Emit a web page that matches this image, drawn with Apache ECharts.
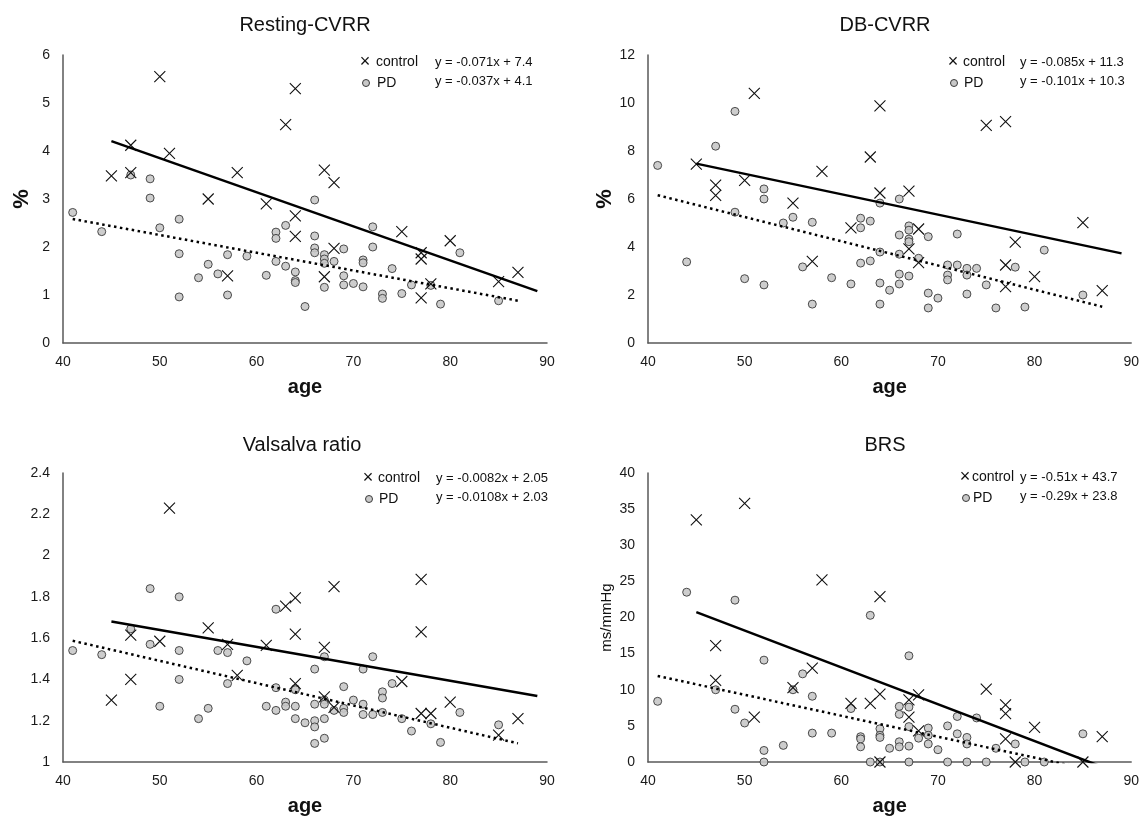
<!DOCTYPE html>
<html>
<head>
<meta charset="utf-8">
<script src="https://cdn.jsdelivr.net/npm/echarts@6/dist/echarts.min.js"></script>
<style>
html, body { margin: 0; padding: 0; background: #fff; }
#chart { width: 1142px; height: 817px; }
</style>
</head>
<body>
<div id="chart"></div>
<script>
// Resting-CVRR (%), [age, value]
var restCtrl = [[45,3.48],[47,4.12],[47,3.55],[50,5.55],[51,3.95],[55,3.0],[57,1.4],[58,3.55],[61,2.9],[63,4.55],[64,5.3],[64,2.65],[64,2.22],[67,3.6],[67,1.38],[68,3.34],[68,1.97],[75,2.32],[77,1.88],[77,1.75],[77,0.94],[78,1.23],[80,2.13],[85,1.28],[87,1.47]]
var restPd = [[41,2.72],[44,2.32],[47,3.5],[49,3.42],[49,3.02],[50,2.4],[52,2.58],[52,1.86],[52,0.96],[54,1.36],[55,1.64],[56,1.44],[57,1.84],[57,1.0],[59,1.81],[61,1.41],[62,2.31],[62,2.18],[62,1.7],[63,2.45],[63,1.6],[64,1.48],[64,1.3],[64,1.26],[65,0.76],[66,2.98],[66,2.23],[66,1.98],[66,1.88],[67,1.84],[67,1.75],[67,1.66],[67,1.16],[68,1.7],[69,1.96],[69,1.4],[69,1.21],[70,1.24],[71,1.73],[71,1.67],[71,1.17],[72,2.42],[72,2.0],[73,1.02],[73,0.93],[74,1.55],[75,1.03],[76,1.21],[78,1.2],[79,0.81],[81,1.88],[85,0.88]]

// DB-CVRR (%)
var dbCtrl = [[45,7.45],[47,6.58],[47,6.15],[50,6.78],[51,10.4],[55,5.83],[57,3.4],[58,7.15],[61,4.8],[63,7.75],[64,9.88],[64,6.25],[67,6.33],[67,3.92],[68,4.75],[68,3.35],[75,9.07],[77,9.22],[77,3.25],[77,2.35],[78,4.2],[80,2.77],[85,5.02],[87,2.18]]
var dbPd = [[41,7.4],[44,3.38],[47,8.2],[49,9.65],[49,5.45],[50,2.68],[52,6.42],[52,6.0],[52,2.42],[54,5.0],[55,5.24],[56,3.17],[57,5.03],[57,1.62],[59,2.72],[61,2.46],[62,5.2],[62,4.8],[62,3.33],[63,5.08],[63,3.42],[64,5.83],[64,3.79],[64,2.5],[64,1.62],[65,2.2],[66,6.0],[66,4.5],[66,3.7],[66,2.87],[66,2.46],[67,4.88],[67,4.7],[67,4.33],[67,4.22],[67,2.79],[68,3.53],[69,4.43],[69,2.08],[69,1.46],[70,1.87],[71,3.25],[71,2.83],[71,2.63],[72,4.54],[72,3.25],[73,3.11],[73,2.83],[73,2.04],[74,3.11],[75,2.42],[76,1.46],[78,3.16],[79,1.5],[81,3.87],[85,2.0]]

// Valsalva ratio
var valCtrl = [[45,1.3],[47,1.615],[47,1.4],[50,1.585],[51,2.23],[55,1.65],[57,1.57],[58,1.42],[61,1.565],[63,1.755],[64,1.795],[64,1.62],[64,1.38],[67,1.555],[67,1.315],[68,1.85],[68,1.265],[75,1.39],[77,1.885],[77,1.63],[77,1.235],[78,1.235],[80,1.29],[85,1.13],[87,1.21]]
var valPd = [[41,1.54],[44,1.52],[47,1.645],[49,1.84],[49,1.57],[50,1.27],[52,1.8],[52,1.54],[52,1.4],[54,1.21],[55,1.26],[56,1.54],[57,1.53],[57,1.38],[59,1.49],[61,1.27],[62,1.74],[62,1.36],[62,1.25],[63,1.29],[63,1.27],[64,1.355],[64,1.35],[64,1.27],[64,1.21],[65,1.19],[66,1.45],[66,1.28],[66,1.2],[66,1.17],[66,1.09],[67,1.51],[67,1.3],[67,1.28],[67,1.21],[67,1.115],[68,1.25],[69,1.365],[69,1.26],[69,1.24],[70,1.3],[71,1.45],[71,1.28],[71,1.23],[72,1.51],[72,1.23],[73,1.34],[73,1.31],[73,1.24],[74,1.38],[75,1.21],[76,1.15],[78,1.185],[79,1.095],[81,1.24],[85,1.18]]

// BRS (ms/mmHg)
var brsCtrl = [[45,33.5],[47,16.1],[47,11.3],[50,35.8],[51,6.2],[55,10.3],[57,13.0],[58,25.2],[61,8.1],[63,8.1],[64,22.9],[64,9.4],[64,0],[67,8.6],[67,6.2],[68,9.3],[68,4.3],[75,10.1],[77,7.9],[77,6.7],[77,3.2],[78,0],[80,4.8],[85,0],[87,3.5]]
var brsPd = [[41,8.4],[44,23.5],[47,10.0],[49,22.4],[49,7.3],[50,5.4],[52,14.1],[52,1.6],[52,0],[54,2.3],[55,10.0],[56,12.2],[57,9.1],[57,4.0],[59,4.0],[61,7.4],[62,3.5],[62,3.2],[62,2.1],[63,20.3],[63,0],[64,4.6],[64,3.7],[64,3.4],[64,0],[65,1.9],[66,7.7],[66,6.6],[66,2.8],[66,2.1],[67,14.7],[67,7.6],[67,4.9],[67,2.2],[67,0],[68,3.3],[69,4.7],[69,3.7],[69,2.5],[70,1.7],[71,5.0],[71,0],[72,6.3],[72,3.9],[73,3.4],[73,2.5],[73,0],[74,6.1],[75,0],[76,1.9],[78,2.5],[79,0],[81,0],[85,3.9]]

// trend lines: [slope, intercept] for control / PD
var restFit = [[-0.071, 7.4], [-0.037, 4.1]]
var dbFit = [[-0.085, 11.3], [-0.101, 10.3]]
var valFit = [[-0.0082, 2.05], [-0.0108, 2.03]]
var brsFit = [[-0.51, 43.7], [-0.29, 23.8]]
var ctrlRange = [45, 89]
var pdRange = [41, 87]

var titles = ['Resting-CVRR', 'DB-CVRR', 'Valsalva ratio', 'BRS']
var yNames = ['%', '%', '', 'ms/mmHg']
var yMin = [0, 0, 1, 0]
var yMax = [6, 12, 2.4, 40]
var yStep = [1, 2, 0.2, 5]

var font = 'Liberation Sans, Arial, sans-serif'
var crossPath = 'path://M0,0L10,10M10,0L0,10'

var panels = [
  { ctrl: restCtrl, pd: restPd, fit: restFit },
  { ctrl: dbCtrl, pd: dbPd, fit: dbFit },
  { ctrl: valCtrl, pd: valPd, fit: valFit },
  { ctrl: brsCtrl, pd: brsPd, fit: brsFit }
]

// layout
var grids = [
  { left: 63, top: 55, width: 484, height: 288 },
  { left: 648, top: 55, width: 484, height: 288 },
  { left: 63, top: 473, width: 484, height: 289 },
  { left: 648, top: 473, width: 484, height: 289 }
]
var titlePos = [[300, 10], [880, 10], [297, 430], [880, 430]]
// [x of marker, y of first row, x of equations, text offset after marker]
var legendPos = [[365, 62, 435, 11], [953, 62, 1020, 10], [368, 478, 436, 10], [965, 477, 1020, 7]]

function fitLine(f, r) {
  return [[r[0], f[0] * r[0] + f[1]], [r[1], f[0] * r[1] + f[1]]]
}
function eqText(f) {
  return 'y = ' + f[0] + 'x + ' + f[1]
}

var myChart = echarts.init(document.getElementById('chart'))

var xAxis = [], yAxis = [], series = [], title = [], graphic = []
panels.forEach(function (p, i) {
  title.push({
    text: titles[i],
    left: titlePos[i][0],
    top: titlePos[i][1],
    textAlign: 'center',
    textStyle: { fontSize: 20, fontWeight: 'normal', color: '#111', fontFamily: font }
  })
  xAxis.push({
    gridIndex: i,
    type: 'value',
    min: 40,
    max: 90,
    interval: 10,
    name: 'age',
    nameLocation: 'middle',
    nameGap: 34,
    nameTextStyle: { fontSize: 20, fontWeight: 'bold', color: '#111', fontFamily: font },
    axisLine: { show: true, onZero: false, lineStyle: { color: '#595959', width: 1.5 } },
    axisTick: { show: false },
    splitLine: { show: false },
    axisLabel: { fontSize: 14, color: '#1a1a1a', margin: 12, fontFamily: font }
  })
  yAxis.push({
    gridIndex: i,
    type: 'value',
    min: yMin[i],
    max: yMax[i],
    interval: yStep[i],
    name: yNames[i],
    nameLocation: 'middle',
    nameGap: i === 3 ? 34 : 30,
    nameTextStyle: i === 3
      ? { fontSize: 15, color: '#111', fontFamily: font }
      : { fontSize: 22, fontWeight: 'bold', color: '#111', fontFamily: font },
    axisLine: { show: true, onZero: false, lineStyle: { color: '#595959', width: 1.5 } },
    axisTick: { show: false },
    splitLine: { show: false },
    axisLabel: { fontSize: 14, color: '#1a1a1a', margin: 13, fontFamily: font }
  })
  series.push({
    name: 'PD',
    type: 'scatter',
    xAxisIndex: i,
    yAxisIndex: i,
    data: p.pd,
    symbol: 'circle',
    symbolSize: 8,
    itemStyle: { color: '#c8c8c8', borderColor: '#3a3a3a', borderWidth: 1, opacity: 0.9 },
    z: 2
  })
  series.push({
    name: 'control',
    type: 'scatter',
    xAxisIndex: i,
    yAxisIndex: i,
    data: p.ctrl,
    symbol: crossPath,
    symbolSize: 11,
    itemStyle: { color: 'rgba(0,0,0,0)', borderColor: '#111', borderWidth: 1.1, opacity: 1 },
    z: 3
  })
  series.push({
    type: 'line',
    xAxisIndex: i,
    yAxisIndex: i,
    data: fitLine(p.fit[0], ctrlRange),
    showSymbol: false,
    silent: true,
    clip: true,
    lineStyle: { color: '#000', width: 2.5 },
    z: 4
  })
  series.push({
    type: 'line',
    xAxisIndex: i,
    yAxisIndex: i,
    data: fitLine(p.fit[1], pdRange),
    showSymbol: false,
    silent: true,
    clip: true,
    lineStyle: { color: '#000', width: 2.5, type: [2.5, 3.5] },
    z: 4
  })

  // legend + equations
  var lp = legendPos[i]
  graphic.push(
    { type: 'text', x: lp[0], y: lp[1], style: { text: '×', fill: '#111', font: '18px ' + font, align: 'center', verticalAlign: 'middle' } },
    { type: 'text', x: lp[0] + lp[3], y: lp[1], style: { text: 'control', fill: '#111', font: '14px ' + font, align: 'left', verticalAlign: 'middle' } },
    { type: 'circle', shape: { cx: lp[0] + 1, cy: lp[1] + 21, r: 3.5 }, style: { fill: '#c8c8c8', stroke: '#3a3a3a', lineWidth: 1 } },
    { type: 'text', x: lp[0] + lp[3] + 1, y: lp[1] + 21, style: { text: 'PD', fill: '#111', font: '14px ' + font, align: 'left', verticalAlign: 'middle' } },
    { type: 'text', x: lp[2], y: lp[1], style: { text: eqText(p.fit[0]), fill: '#111', font: '13px ' + font, align: 'left', verticalAlign: 'middle' } },
    { type: 'text', x: lp[2], y: lp[1] + 19, style: { text: eqText(p.fit[1]), fill: '#111', font: '13px ' + font, align: 'left', verticalAlign: 'middle' } }
  )
})

var option = {
  backgroundColor: '#fff',
  animation: false,
  title: title,
  grid: grids,
  xAxis: xAxis,
  yAxis: yAxis,
  series: series,
  graphic: graphic
}
myChart.setOption(option)
</script>
</body>
</html>
